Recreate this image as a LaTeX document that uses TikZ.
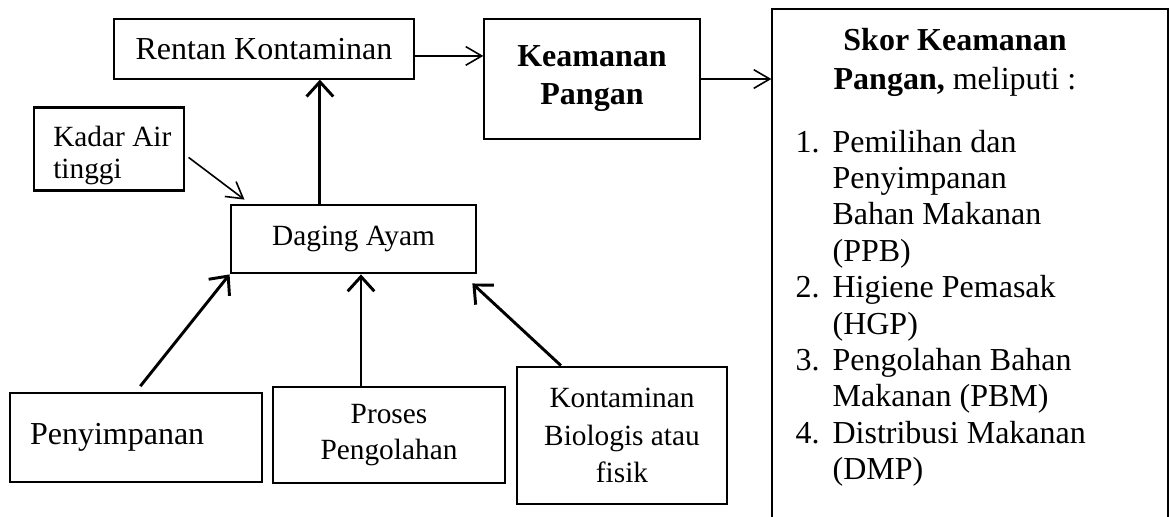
\documentclass[tikz,border=0pt]{standalone}
\usepackage{fontspec}
\setmainfont{Liberation Serif}
\usetikzlibrary{arrows.meta}

\tikzset{
	box/.style={draw, line width=0.5pt, inner sep=2pt, font=\fontsize{12}{14.2}\selectfont},
	heavybox/.style={draw, line width=1.05pt, inner sep=2pt, font=\fontsize{11}{13.5}\selectfont},
	link/.style={-{Straight Barb[length=6pt,width=7pt]}, line width=0.6pt},
	heavylink/.style={-{Straight Barb[length=5.5pt,width=10pt]}, line width=1.1pt},
}

\begin{document}
\begin{tikzpicture}[x=0.375pt,y=-0.375pt]
	\useasboundingbox (0,0) rectangle (1170,516);
	% top row
	\node[box, minimum width=112.5pt, minimum height=22.5pt](rentan) at (264,49){Rentan Kontaminan};
	\node[box, minimum width=81pt, minimum height=45pt, align=center,
		font=\fontsize{12}{14.25}\selectfont\bfseries](aman) at (592,79){Keamanan\\Pangan};
	\node[box, minimum width=148.5pt, minimum height=191.6pt](skor) at (970,264.5){};
	\node[align=center, font=\fontsize{12}{14.6}\selectfont](skorjudul) at (955,62)
		{\textbf{Skor Keamanan}\\\textbf{Pangan,} meliputi :};
	\node[anchor=north west, inner sep=0pt, font=\fontsize{12}{13.65}\selectfont](skorisi) at (795,126){%
		\begin{tabular}{@{}p{13.9pt}@{}l@{}}
			1. & Pemilihan dan\\
			   & Penyimpanan\\
			   & Bahan Makanan\\
			   & (PPB)\\
			2. & Higiene Pemasak\\
			   & (HGP)\\
			3. & Pengolahan Bahan\\
			   & Makanan (PBM)\\
			4. & Distribusi Makanan\\
			   & (DMP)
		\end{tabular}};
	% middle
	\node[heavybox, minimum width=56.25pt, minimum height=30.75pt, align=left,
		font=\fontsize{11}{12.2}\selectfont](kadar) at (109,149)
		{\hspace*{2.5pt}\rule{0pt}{12.5pt}Kadar Air\\\hspace*{2.5pt}tinggi};
	\node[heavybox, minimum width=91.9pt, minimum height=25.5pt](daging) at (353.5,239){Daging Ayam};
	% bottom row
	\node[heavybox, minimum width=94.5pt, minimum height=33.4pt, text width=79.5pt, inner xsep=7.5pt,
		align=left, font=\fontsize{12}{14}\selectfont](simpan) at (136,437.5){Penyimpanan};
	\node[heavybox, minimum width=87pt, minimum height=36pt, align=center](proses) at (389,435){Proses\\Pengolahan};
	\node[heavybox, minimum width=78.75pt, minimum height=51.4pt, align=center,
		font=\fontsize{11}{14}\selectfont](kontam) at (622,435.5){Kontaminan\\Biologis atau\\fisik};
	% arrows
	\coordinate (r1) at ([yshift=-2.6pt]rentan.east);
	\draw[link] (r1) -- (r1 -| aman.west);
	\draw[link] (aman.east) -- (aman.east -| skor.west);
	\coordinate (d1) at ([xshift=-12.6pt]daging.north);
	\draw[heavylink] (d1) -- (d1 |- rentan.south);
	\draw[link, shorten <=1.5pt] ([yshift=-2.25pt]kadar.east) -- ([xshift=5.6pt,yshift=1.5pt]daging.north west);
	\draw[heavylink, shorten <=2.6pt] (simpan.north) -- (daging.south west);
	\coordinate (p1) at ([xshift=-10.5pt]proses.north);
	\draw[heavylink] (p1) -- (p1 |- daging.south);
	\draw[heavylink] ([xshift=-22.9pt]kontam.north) -- ([xshift=-1.9pt,yshift=-3.4pt]daging.south east);
\end{tikzpicture}
\end{document}
